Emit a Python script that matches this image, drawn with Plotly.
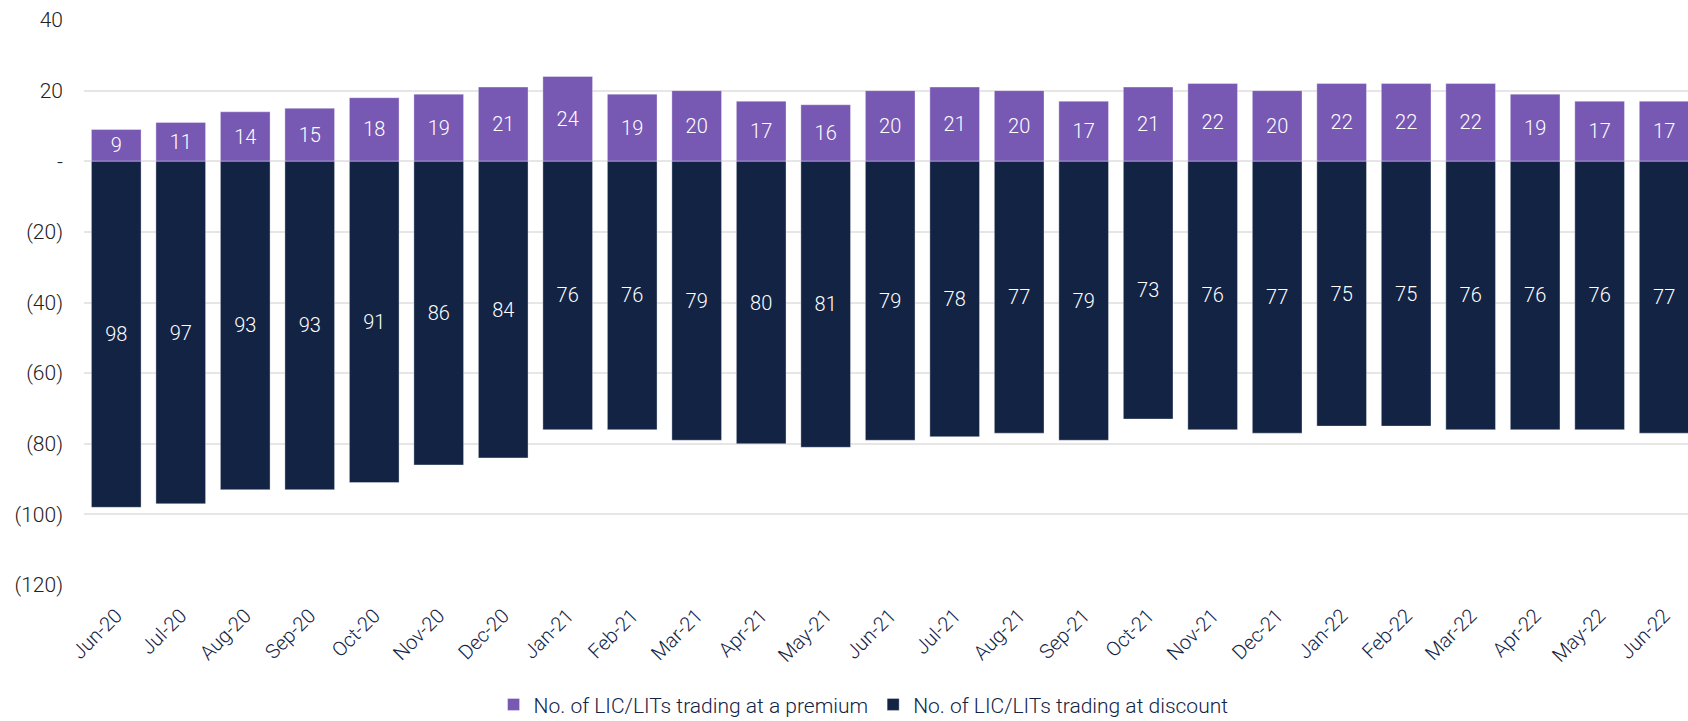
import plotly.graph_objects as go

months = ["Jun-20","Jul-20","Aug-20","Sep-20","Oct-20","Nov-20","Dec-20","Jan-21","Feb-21","Mar-21",
          "Apr-21","May-21","Jun-21","Jul-21","Aug-21","Sep-21","Oct-21","Nov-21","Dec-21","Jan-22",
          "Feb-22","Mar-22","Apr-22","May-22","Jun-22"]
premium = [9,11,14,15,18,19,21,24,19,20,17,16,20,21,20,17,21,22,20,22,22,22,19,17,17]
discount = [98,97,93,93,91,86,84,76,76,79,80,81,79,78,77,79,73,76,77,75,75,76,76,76,77]
y_tickvals = [40, 20, 0, -20, -40, -60, -80, -100, -120]
y_ticktext = ["40", "20", "-", "(20)", "(40)", "(60)", "(80)", "(100)", "(120)"]

PURPLE = "#7758B3"
NAVY = "#132344"
FONT = "Roboto, Inter, sans-serif"

fig = go.Figure()
fig.add_trace(go.Bar(
    x=months, y=premium, name="No. of LIC/LITs trading at a premium",
    marker=dict(color=PURPLE, line=dict(color="rgba(255,255,255,0.35)", width=1)),
    text=[str(v) for v in premium], textposition="inside", insidetextanchor="middle",
    textangle=0, textfont=dict(color="white", size=20, family=FONT, weight=300),
))
fig.add_trace(go.Bar(
    x=months, y=[-v for v in discount], name="No. of LIC/LITs trading at discount",
    marker=dict(color=NAVY, line=dict(color="rgba(255,255,255,0.35)", width=1)),
    text=[str(v) for v in discount], textposition="inside", insidetextanchor="middle",
    textangle=0, textfont=dict(color="white", size=20, family=FONT, weight=300),
))

fig.update_layout(
    width=1688, height=721,
    barmode="relative", bargap=0.23,
    plot_bgcolor="white", paper_bgcolor="white",
    margin=dict(l=84, r=0, t=20, b=136, autoexpand=False),
    font=dict(family=FONT, size=20, color="#222222", weight=300),
    showlegend=True,
    legend=dict(orientation="h", x=0.486, xanchor="center", y=-0.212, yanchor="middle",
                font=dict(size=21, color=NAVY, family=FONT, weight=300),
                traceorder="normal", entrywidth=0),
    uniformtext=dict(mode=False),
)
fig.update_xaxes(
    range=[-0.5, 24.37], tickangle=-45, showgrid=False, showline=False, zeroline=False,
    tickfont=dict(size=20, color=NAVY, family=FONT, weight=300), ticks="",
    automargin=False, ticklabelstandoff=14,
)
fig.update_yaxes(
    range=[-120, 40], tickvals=y_tickvals, ticktext=y_ticktext,
    showgrid=True, gridcolor="#E6E6E6", gridwidth=2, zeroline=False, showline=False,
    tickfont=dict(size=21, color="#222222", family=FONT, weight=300), ticks="",
    ticklabelstandoff=20, automargin=False,
)

fig.write_html(
    "out.html",
    config={"displayModeBar": False},
    post_script="document.body.style.margin='0';document.body.style.overflow='hidden';",
)
